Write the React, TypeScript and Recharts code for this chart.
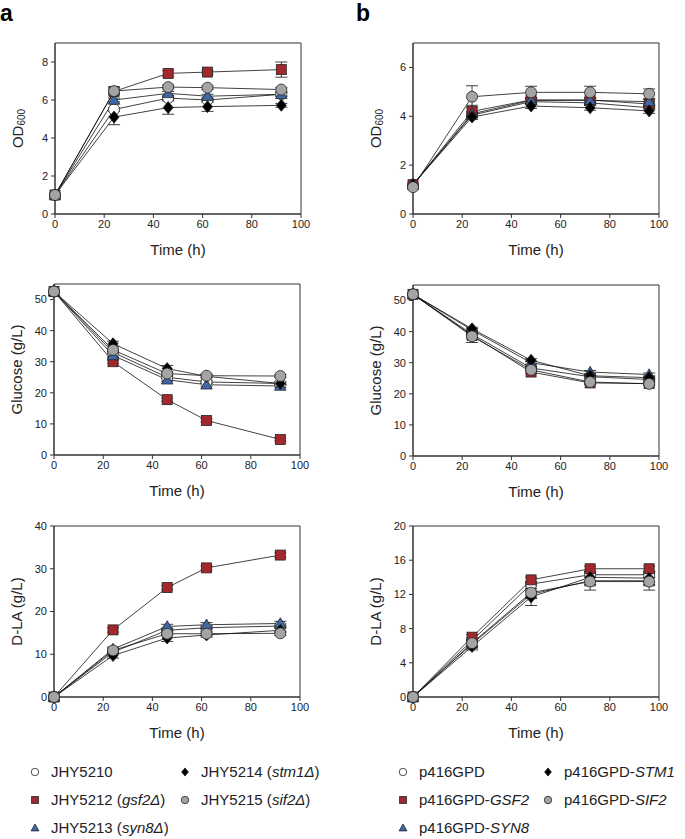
import React from "react";
import { LineChart, Line, XAxis, YAxis, ErrorBar, ReferenceArea } from "recharts";

// sampling times (h)
const timeA = [0, 24, 46, 62, 92];
const timeB = [0, 24, 48, 72, 96];
const xTicks = [0, 20, 40, 60, 80, 100];

// panel a — deletion strains, order: JHY5210, gsf2Δ, syn8Δ, stm1Δ, sif2Δ
const odA = [
  [1.0, 5.5, 6.1, 6.0, 6.3],
  [1.0, 6.45, 7.4, 7.47, 7.6],
  [1.0, 6.0, 6.35, 6.2, 6.3],
  [1.0, 5.1, 5.6, 5.65, 5.72],
  [1.0, 6.47, 6.68, 6.65, 6.55],
];
const odAErr = [
  [0, 0.1, 0.1, 0.1, 0.1],
  [0, 0.1, 0.15, 0.1, 0.4],
  [0, 0.1, 0.1, 0.1, 0.1],
  [0, 0.4, 0.35, 0.25, 0.1],
  [0, 0.2, 0.1, 0.1, 0.1],
];
const glcA = [
  [52.6, 33.0, 25.0, 23.5, 23.0],
  [52.6, 30.0, 17.8, 11.1, 5.0],
  [52.6, 32.0, 24.2, 22.6, 22.2],
  [52.6, 35.8, 27.8, 25.3, 23.0],
  [52.6, 33.8, 26.2, 25.5, 25.4],
];
const glcAErr = [
  [0, 0.5, 0.5, 0.5, 0.5],
  [0, 0.5, 0.5, 0.5, 0.5],
  [0, 0.5, 0.5, 0.5, 0.5],
  [0, 0.8, 1.0, 0.5, 0.5],
  [0, 0.5, 0.5, 0.5, 0.5],
];
const dlaA = [
  [0, 10.5, 15.6, 16.2, 16.6],
  [0, 15.7, 25.6, 30.2, 33.2],
  [0, 11.2, 16.5, 16.9, 17.2],
  [0, 9.7, 13.8, 14.5, 15.6],
  [0, 10.9, 14.8, 14.8, 14.9],
];
const dlaAErr = [
  [0, 0.5, 0.5, 0.5, 0.5],
  [0, 0.5, 0.5, 0.5, 0.5],
  [0, 0.5, 0.5, 0.5, 0.5],
  [0, 0.6, 0.8, 0.5, 0.5],
  [0, 0.5, 0.5, 0.5, 0.5],
];

// panel b — overexpression, order: p416GPD, GSF2, SYN8, STM1, SIF2
const odB = [
  [1.2, 4.05, 4.6, 4.55, 4.35],
  [1.2, 4.2, 4.67, 4.67, 4.5],
  [1.2, 4.1, 4.65, 4.65, 4.6],
  [1.2, 3.97, 4.42, 4.35, 4.22],
  [1.1, 4.8, 4.98, 4.98, 4.92],
];
const odBErr = [
  [0, 0.1, 0.1, 0.1, 0.1],
  [0, 0.25, 0.1, 0.1, 0.1],
  [0, 0.1, 0.1, 0.1, 0.1],
  [0, 0.1, 0.1, 0.1, 0.1],
  [0, 0.45, 0.25, 0.25, 0.2],
];
const glcB = [
  [52, 39.2, 28.3, 25.5, 24.6],
  [52, 38.8, 27.0, 23.5, 23.3],
  [52, 40.5, 30.0, 27.0, 26.2],
  [52, 40.9, 30.8, 25.8, 25.2],
  [52, 38.5, 27.7, 23.8, 23.2],
];
const glcBErr = [
  [0, 0.5, 0.5, 0.5, 0.5],
  [0, 0.5, 0.5, 0.5, 0.5],
  [0, 0.5, 0.5, 0.5, 0.5],
  [0, 0.5, 0.5, 0.5, 0.5],
  [0, 2.0, 0.5, 0.5, 0.5],
];
const dlaB = [
  [0, 6.6, 13.2, 14.3, 14.3],
  [0, 7.0, 13.7, 15.0, 15.0],
  [0, 6.2, 12.0, 13.6, 13.6],
  [0, 5.9, 11.7, 14.0, 13.9],
  [0, 6.3, 12.2, 13.5, 13.5],
];
const dlaBErr = [
  [0, 0.3, 0.3, 0.3, 0.3],
  [0, 0.3, 0.3, 0.3, 0.3],
  [0, 0.3, 0.3, 1.1, 1.1],
  [0, 0.4, 1.0, 0.5, 0.5],
  [0, 0.3, 0.3, 0.5, 0.5],
];

// legend text: [plain, italic, plain]
const legendA = [
  ["JHY5210", "", ""],
  ["JHY5212 (", "gsf2Δ", ")"],
  ["JHY5213 (", "syn8Δ", ")"],
  ["JHY5214 (", "stm1Δ", ")"],
  ["JHY5215 (", "sif2Δ", ")"],
];
const legendB = [
  ["p416GPD", "", ""],
  ["p416GPD-", "GSF2", ""],
  ["p416GPD-", "SYN8", ""],
  ["p416GPD-", "STM1", ""],
  ["p416GPD-", "SIF2", ""],
];

const shapes = ["circle", "square", "triangle", "diamond", "circle"];
const fills = ["#ffffff", "#a3282d", "#3f68aa", "#000000", "#a4a4a4"];

const FONT = "'Liberation Sans', Arial, sans-serif";
const TXT = "#222";
const PW = 246;
const PH = 171;

function Marker({ cx, cy, kind, fill, s }: any) {
  const st = { fill, stroke: "#222", strokeWidth: 0.8 };
  if (cx == null || cy == null) return null;
  if (kind === "circle") return <circle cx={cx} cy={cy} r={s * 1.1} {...st} />;
  if (kind === "square")
    return <rect x={cx - s} y={cy - s} width={2 * s} height={2 * s} {...st} />;
  if (kind === "triangle")
    return (
      <polygon
        points={`${cx},${cy - s * 1.15} ${cx + s * 1.15},${cy + s * 0.85} ${cx - s * 1.15},${cy + s * 0.85}`}
        {...st}
      />
    );
  return (
    <polygon
      points={`${cx},${cy - s * 1.2} ${cx + s},${cy} ${cx},${cy + s * 1.2} ${cx - s},${cy}`}
      {...st}
    />
  );
}

function XTitle() {
  return (
    <text x={55 + PW / 2} y={10 + PH + 41} textAnchor="middle" fontSize={15} fill={TXT}>
      Time (h)
    </text>
  );
}

function YTitle({ title, sub }: { title: string; sub?: string }) {
  const cx = 17;
  const cy = 10 + PH / 2;
  return (
    <text
      x={cx}
      y={cy}
      transform={`rotate(-90 ${cx} ${cy})`}
      textAnchor="middle"
      dominantBaseline="central"
      fontSize={15}
      fill={TXT}
    >
      <tspan>{title}</tspan>
      {sub ? (
        <tspan fontSize={10} dy={4}>
          {sub}
        </tspan>
      ) : null}
    </text>
  );
}

function Panel({ x, y, times, values, errors, yMax, yTicks, title, sub }: any) {
  return (
    <div style={{ position: "absolute", left: x - 55, top: y - 10 }}>
      <LineChart
        width={55 + PW + 12}
        height={10 + PH + 52}
        margin={{ top: 10, right: 12, bottom: 0, left: 0 }}
      >
        <XAxis
          type="number"
          dataKey="t"
          domain={[0, 100]}
          ticks={xTicks}
          height={52}
          tickSize={4}
          tickMargin={2}
          tick={{ fontSize: 11, fill: TXT }}
          stroke="#333"
          label={<XTitle />}
        />
        <YAxis
          type="number"
          domain={[0, yMax]}
          ticks={yTicks}
          width={55}
          tickSize={4}
          tickMargin={3}
          tick={{ fontSize: 11, fill: TXT }}
          stroke="#333"
          label={<YTitle title={title} sub={sub} />}
        />
        <ReferenceArea x1={0} x2={100} y1={0} y2={yMax} fill="none" stroke="#333" strokeWidth={1} />
        {values.map((vals: number[], k: number) => (
          <Line
            key={k}
            data={times.map((t: number, i: number) => ({ t, v: vals[i], e: errors[k][i] }))}
            dataKey="v"
            stroke="#111"
            strokeWidth={0.8}
            isAnimationActive={false}
            activeDot={false}
            dot={(p: any) => (
              <Marker key={`${k}-${p.index}`} cx={p.cx} cy={p.cy} kind={shapes[k]} fill={fills[k]} s={5} />
            )}
          >
            <ErrorBar dataKey="e" width={6} stroke="#111" strokeWidth={0.8} direction="y" />
          </Line>
        ))}
      </LineChart>
    </div>
  );
}

function LegendItem({ x, y, k, text }: any) {
  return (
    <>
      <svg
        width={12}
        height={12}
        style={{ position: "absolute", left: x - 6, top: y - 6 }}
      >
        <Marker cx={6} cy={6} kind={shapes[k]} fill={fills[k]} s={3.4} />
      </svg>
      <div
        style={{
          position: "absolute",
          left: x + 16,
          top: y - 10,
          fontSize: 15,
          lineHeight: "20px",
          whiteSpace: "nowrap",
          color: TXT,
        }}
      >
        {text[0]}
        <i>{text[1]}</i>
        {text[2]}
      </div>
    </>
  );
}

function Legend({ x1, x2, labels }: any) {
  const rows = [772, 800, 828];
  return (
    <>
      <LegendItem x={x1} y={rows[0]} k={0} text={labels[0]} />
      <LegendItem x={x1} y={rows[1]} k={1} text={labels[1]} />
      <LegendItem x={x1} y={rows[2]} k={2} text={labels[2]} />
      <LegendItem x={x2} y={rows[0]} k={3} text={labels[3]} />
      <LegendItem x={x2} y={rows[1]} k={4} text={labels[4]} />
    </>
  );
}

export default function App() {
  return (
    <div
      style={{
        position: "absolute",
        left: 0,
        top: 0,
        width: 685,
        height: 839,
        background: "#fff",
        fontFamily: FONT,
        overflow: "hidden",
      }}
    >
      <div style={{ position: "absolute", left: 0, top: 0, fontSize: 23, fontWeight: "bold" }}>a</div>
      <div style={{ position: "absolute", left: 356, top: 0, fontSize: 23, fontWeight: "bold" }}>b</div>

      <Panel x={55} y={43} times={timeA} values={odA} errors={odAErr} yMax={9} yTicks={[0, 2, 4, 6, 8]} title="OD" sub="600" />
      <Panel x={413} y={43} times={timeB} values={odB} errors={odBErr} yMax={7} yTicks={[0, 2, 4, 6]} title="OD" sub="600" />
      <Panel x={54} y={284} times={timeA} values={glcA} errors={glcAErr} yMax={55} yTicks={[0, 10, 20, 30, 40, 50]} title="Glucose (g/L)" />
      <Panel x={413} y={285} times={timeB} values={glcB} errors={glcBErr} yMax={55} yTicks={[0, 10, 20, 30, 40, 50]} title="Glucose (g/L)" />
      <Panel x={54} y={526} times={timeA} values={dlaA} errors={dlaAErr} yMax={40} yTicks={[0, 10, 20, 30, 40]} title="D-LA (g/L)" />
      <Panel x={413} y={526} times={timeB} values={dlaB} errors={dlaBErr} yMax={20} yTicks={[0, 4, 8, 12, 16, 20]} title="D-LA (g/L)" />

      <Legend x1={35} x2={185} labels={legendA} />
      <Legend x1={403} x2={548} labels={legendB} />
    </div>
  );
}
